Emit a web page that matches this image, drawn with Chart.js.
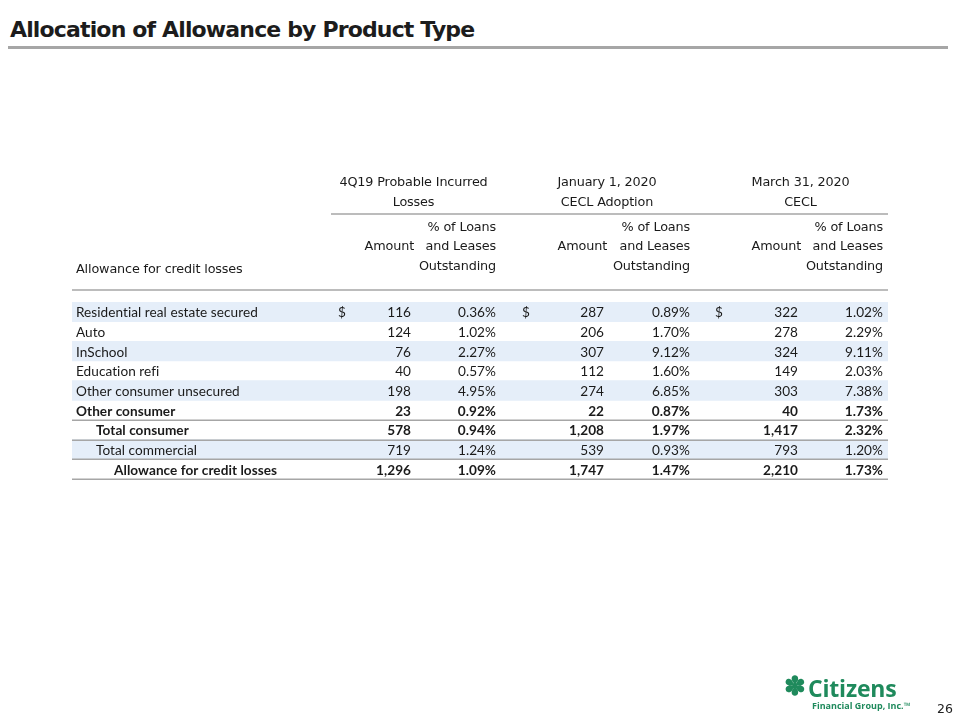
<!DOCTYPE html>
<html lang="en">
<head>
    <meta charset="UTF-8">
    <title>Allocation of Allowance by Product Type</title>
    <script src="https://cdn.jsdelivr.net/npm/chart.js"></script>
    <style>
        body { margin: 0; background: #fff; width: 960px; height: 720px; position: relative; overflow: hidden; }
        #title { position: absolute; left: 10px; top: 17px; margin: 0; font: bold 22px "DejaVu Sans", sans-serif; color: #1c1c1c; letter-spacing: -0.85px; }
        #rule { position: absolute; left: 8px; top: 46px; width: 940px; height: 3px; background: #a6a6a6; }
        #tbl { position: absolute; left: 0; top: 0; }
        #logo { position: absolute; left: 784px; top: 675px; color: #1f8a5c; font-family: "Open Sans", sans-serif; }
        #logo .mark { position: absolute; left: 0; top: -3px; font-size: 26px; font-weight: bold; line-height: 1; }
        #logo .name { position: absolute; left: 24px; top: -3px; font-size: 23px; font-weight: bold; letter-spacing: -0.2px; white-space: nowrap; }
        #logo .sub { position: absolute; left: 28px; top: 24px; font-size: 9px; font-weight: bold; white-space: nowrap; }
        #page { position: absolute; left: 937px; top: 701px; font: 12.5px "DejaVu Sans", sans-serif; color: #222; }
    </style>
</head>
<body>
    <h1 id="title">Allocation of Allowance by Product Type</h1>
    <div id="rule"></div>
    <canvas id="tbl" width="960" height="720"></canvas>
    <div id="logo"><span class="mark">&#10045;</span><span class="name">Citizens</span><span class="sub">Financial Group, Inc.&#8482;</span></div>
    <div id="page">26</div>

    <script>
        // table data
        var rowLabels = ['Residential real estate secured', 'Auto', 'InSchool', 'Education refi',
            'Other consumer unsecured', 'Other consumer', 'Total consumer', 'Total commercial',
            'Allowance for credit losses'];
        var amt4Q19 = [116, 124, 76, 40, 198, 23, 578, 719, 1296];
        var pct4Q19 = [0.36, 1.02, 2.27, 0.57, 4.95, 0.92, 0.94, 1.24, 1.09];
        var amtJan = [287, 206, 307, 112, 274, 22, 1208, 539, 1747];
        var pctJan = [0.89, 1.70, 9.12, 1.60, 6.85, 0.87, 1.97, 0.93, 1.47];
        var amtMar = [322, 278, 324, 149, 303, 40, 1417, 793, 2210];
        var pctMar = [1.02, 2.29, 9.11, 2.03, 7.38, 1.73, 2.32, 1.20, 1.73];
        var groupHeaders = [['4Q19 Probable Incurred', 'Losses'], ['January 1, 2020', 'CECL Adoption'], ['March 31, 2020', 'CECL']];
        var subHeaders = [['', 'Amount', ''], ['% of Loans', 'and Leases', 'Outstanding']];
        var stubHeader = 'Allowance for credit losses';

        // row styling
        var stripedRows = [0, 2, 4, 7];
        var boldRows = [5, 6, 8];
        var indentRows = { 6: 20, 7: 20, 8: 38 };
        var ruleAfterRows = [5, 6, 7, 8];

        // column layout in table units (0 = left edge of table)
        var tableWidth = 816;
        var groups = [
            { dollar: 266, amt: 339, pct: 424, amtVals: amt4Q19, pctVals: pct4Q19 },
            { dollar: 450, amt: 532, pct: 618, amtVals: amtJan, pctVals: pctJan },
            { dollar: 643, amt: 726, pct: 811, amtVals: amtMar, pctVals: pctMar }
        ];

        var headFont = '"DejaVu Sans", sans-serif';
        var cellFont = 'Lato, "Open Sans", sans-serif';
        var lineColor = '#a6a6a6';

        function fmtAmt(v) { return v.toLocaleString('en-US'); }
        function fmtPct(v) { return v.toFixed(2) + '%'; }

        var tablePlugin = {
            id: 'tableText',
            afterDatasetsDraw: function(chart) {
                var ctx = chart.ctx;
                var xs = chart.scales.x, ys = chart.scales.y;
                var area = chart.chartArea;
                var rowH = (area.bottom - area.top) / rowLabels.length;
                ctx.save();
                ctx.fillStyle = '#1a1a1a';
                ctx.textBaseline = 'middle';

                // header
                ctx.font = '12.8px ' + headFont;
                ctx.letterSpacing = '-0.15px';
                ctx.textAlign = 'center';
                groups.forEach(function(g, gi) {
                    var cx = (xs.getPixelForValue(g.amt) + xs.getPixelForValue(g.pct)) / 2 - 40;
                    ctx.fillText(groupHeaders[gi][0], cx, area.top - 119);
                    ctx.fillText(groupHeaders[gi][1], cx, area.top - 99);
                });
                ctx.textAlign = 'right';
                groups.forEach(function(g) {
                    var ax = xs.getPixelForValue(g.amt) + 3, px = xs.getPixelForValue(g.pct);
                    ctx.fillText(subHeaders[0][1], ax, area.top - 55);
                    ctx.fillText(subHeaders[1][0], px, area.top - 74);
                    ctx.fillText(subHeaders[1][1], px, area.top - 55);
                    ctx.fillText(subHeaders[1][2], px, area.top - 35);
                });
                ctx.textAlign = 'left';
                ctx.fillText(stubHeader, xs.getPixelForValue(4), area.top - 32);

                // header rules
                ctx.strokeStyle = lineColor;
                ctx.lineWidth = 1.5;
                ctx.beginPath();
                ctx.moveTo(xs.getPixelForValue(259), area.top - 88);
                ctx.lineTo(xs.getPixelForValue(tableWidth), area.top - 88);
                ctx.moveTo(xs.getPixelForValue(0), area.top - 12);
                ctx.lineTo(xs.getPixelForValue(tableWidth), area.top - 12);
                ctx.stroke();

                // body cells (small letter spacing keeps Lato from using ligatures)
                ctx.letterSpacing = '0.05px';
                rowLabels.forEach(function(label, i) {
                    var y = ys.getPixelForValue(i) + 1;
                    var bold = boldRows.indexOf(i) >= 0;
                    ctx.font = (bold ? 'bold ' : '') + '13.6px ' + cellFont;
                    ctx.textAlign = 'left';
                    ctx.fillText(label, xs.getPixelForValue(4 + (indentRows[i] || 0)), y);
                    groups.forEach(function(g) {
                        if (i === 0) {
                            ctx.textAlign = 'left';
                            ctx.fillText('$', xs.getPixelForValue(g.dollar), y);
                        }
                        ctx.textAlign = 'right';
                        ctx.fillText(fmtAmt(g.amtVals[i]), xs.getPixelForValue(g.amt), y);
                        ctx.fillText(fmtPct(g.pctVals[i]), xs.getPixelForValue(g.pct), y);
                    });
                });

                // row rules
                ctx.beginPath();
                ruleAfterRows.forEach(function(i) {
                    var y = Math.round(ys.getPixelForValue(i) + rowH / 2) + 0.25;
                    ctx.moveTo(xs.getPixelForValue(0), y);
                    ctx.lineTo(xs.getPixelForValue(tableWidth), y);
                });
                ctx.stroke();
                ctx.restore();
            }
        };

        new Chart(document.getElementById('tbl'), {
            type: 'bar',
            data: {
                labels: rowLabels,
                datasets: [{
                    data: rowLabels.map(function(_, i) { return stripedRows.indexOf(i) >= 0 ? [0, tableWidth] : null; }),
                    backgroundColor: '#e5eef9',
                    barPercentage: 1,
                    categoryPercentage: 1
                }]
            },
            options: {
                indexAxis: 'y',
                responsive: false,
                animation: false,
                layout: { padding: { left: 72, right: 72, top: 302, bottom: 241 } },
                plugins: { legend: { display: false }, tooltip: { enabled: false } },
                scales: {
                    x: { type: 'linear', min: 0, max: tableWidth, display: false },
                    y: { type: 'category', display: false, offset: true }
                }
            },
            plugins: [tablePlugin]
        });
    </script>
</body>
</html>
